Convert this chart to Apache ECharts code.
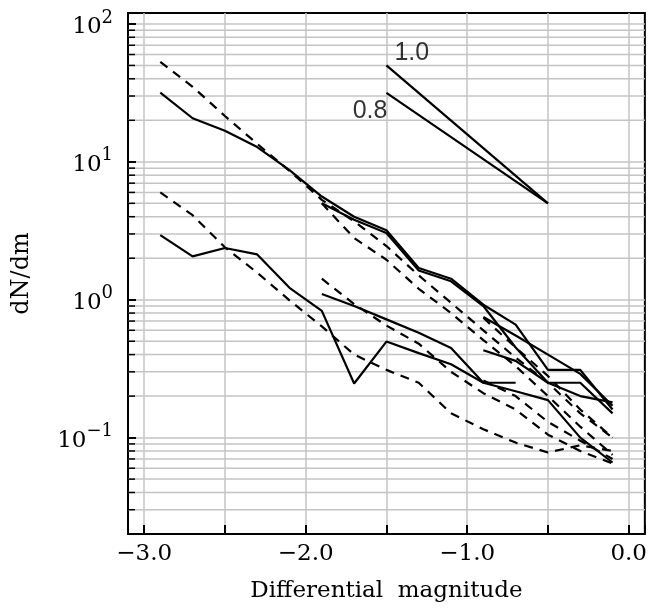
<!DOCTYPE html>
<html>
<head>
<meta charset="utf-8">
<script src="https://cdn.jsdelivr.net/npm/echarts@6/dist/echarts.min.js"></script>
<style>
  html, body { margin: 0; padding: 0; background: #fff; }
  #chart { width: 650px; height: 612px; }
</style>
</head>
<body>
<div id="chart"></div>
<script>
// magnitude bins
const magAll = [-2.9, -2.7, -2.5, -2.3, -2.1, -1.9, -1.7, -1.5, -1.3, -1.1, -0.9, -0.7, -0.5, -0.3, -0.1];
const magMid = [-1.9, -1.7, -1.5, -1.3, -1.1, -0.9, -0.7, -0.5, -0.3, -0.1];
const magLate = [-0.9, -0.7, -0.5, -0.3, -0.1];

// upper group
const upSolidAll = [31.8, 20.7, 16.8, 12.8, 8.7, 5.6, 4.0, 3.19, 1.70, 1.42, 0.92, 0.66, 0.31, 0.31, 0.16];
const upDashAll = [53, 35, 21.5, 13.5, 8.6, 5.3, 3.7, 2.45, 1.5, 0.95, 0.6, 0.38, 0.25, 0.15, 0.10];
const upSolidMid = [5.0, 3.8, 3.05, 1.63, 1.36, 0.90, 0.45, 0.25, 0.25, 0.15];
const upDashMid = [5.0, 2.8, 1.95, 1.2, 0.8, 0.51, 0.33, 0.2, 0.12, 0.075];
const upSolidLate = [0.75, 0.55, 0.40, 0.29, 0.17];
const upDashLate = [0.74, 0.45, 0.28, 0.16, 0.10];

// lower group
const loSolidAll = [2.94, 2.06, 2.37, 2.13, 1.22, 0.83, 0.247, 0.497, 0.41, 0.34, 0.25, 0.217, 0.187, 0.10, 0.066];
const loDashAll = [6.0, 4.1, 2.4, 1.57, 0.99, 0.64, 0.40, 0.31, 0.25, 0.15, 0.115, 0.092, 0.078, 0.088, 0.08];
const loSolidMid = [1.10, 0.90, 0.72, 0.575, 0.447, 0.25, 0.25];
const loDashMid = [1.42, 0.93, 0.65, 0.48, 0.30, 0.21, 0.16, 0.105, 0.08, 0.065];
const loSolidLate = [0.43, 0.36, 0.25, 0.20, 0.18];
const loDashLate = [0.26, 0.2, 0.13, 0.095, 0.07];

// reference slopes
const slopeX = [-1.5, -0.5];
const slope10 = [50, 5];
const slope08 = [31.6, 5];
const slopeNames = ['1.0', '0.8'];

// axis
const xMin = -3.1, xMax = 0.1;
const yMin = 0.02, yMax = 120;
const xLabelVals = [-3, -2, -1, 0];
const minorTicks = [0.03, 0.04, 0.05, 0.06, 0.07, 0.08, 0.09,
  0.2, 0.3, 0.4, 0.5, 0.6, 0.7, 0.8, 0.9,
  2, 3, 4, 5, 6, 7, 8, 9,
  20, 30, 40, 50, 60, 70, 80, 90];

const serif = 'DejaVu Serif';

function pairs(xs, ys) {
  return ys.map((v, i) => [xs[i], v]);
}

function curve(xs, ys, dashed) {
  return {
    type: 'line',
    data: pairs(xs, ys),
    symbol: 'none',
    silent: true,
    z: 3,
    lineStyle: { color: '#000', width: 2.2, type: dashed ? [9, 7] : 'solid' }
  };
}

const myChart = echarts.init(document.getElementById('chart'));

const option = {
  animation: false,
  backgroundColor: '#fff',
  grid: {
    left: 128, right: 5, top: 13, bottom: 78,
    show: true, borderColor: '#000', borderWidth: 2
  },
  xAxis: {
    type: 'value',
    min: xMin, max: xMax,
    minInterval: 0.5, maxInterval: 0.5,
    name: 'Differential  magnitude',
    nameLocation: 'middle',
    nameGap: 46,
    nameTextStyle: { fontFamily: serif, fontSize: 23, color: '#000' },
    axisLine: { show: false, onZero: false },
    axisTick: { inside: true, length: 9, lineStyle: { color: '#000', width: 2 } },
    axisLabel: {
      margin: 9,
      fontFamily: serif, fontSize: 23, color: '#000',
      formatter: function (v) {
        for (const t of xLabelVals) {
          if (Math.abs(v - t) < 1e-6) return (t < 0 ? '\u2212' : '') + Math.abs(t).toFixed(1);
        }
        return '';
      }
    },
    splitLine: { show: true, showMinLine: false, showMaxLine: false, lineStyle: { color: '#c4c4c4', width: 1.5 } }
  },
  yAxis: {
    type: 'log',
    logBase: 10,
    min: yMin, max: yMax,
    name: 'dN/dm',
    nameLocation: 'middle',
    nameGap: 94,
    nameTextStyle: { fontFamily: serif, fontSize: 24, color: '#000' },
    axisLine: { show: false, onZero: false },
    axisTick: { inside: true, length: 8, lineStyle: { color: '#000', width: 2 } },
    axisLabel: {
      margin: 15,
      color: '#000',
      formatter: function (v) {
        const lg = Math.log10(v);
        const n = Math.round(lg);
        if (Math.abs(lg - n) > 0.01) return '';
        return '{b|10}{s|' + (n < 0 ? '\u2212' + (-n) : n) + '}';
      },
      rich: {
        b: { fontFamily: serif, fontSize: 23, color: '#000', verticalAlign: 'bottom', lineHeight: 30 },
        s: { fontFamily: serif, fontSize: 18, color: '#000', verticalAlign: 'top', lineHeight: 18 }
      }
    },
    splitLine: { show: true, showMinLine: false, showMaxLine: false, lineStyle: { color: '#c4c4c4', width: 1.5 } }
  },
  series: [
    // minor grid lines and ticks on the log axis
    {
      type: 'custom',
      silent: true,
      z: 1,
      data: minorTicks.map(v => [xMin, v]),
      renderItem: function (params, api) {
        const p = api.coord([api.value(0), api.value(1)]);
        const cs = params.coordSys;
        return {
          type: 'group',
          children: [
            { type: 'line', shape: { x1: cs.x, y1: p[1], x2: cs.x + cs.width, y2: p[1] },
              style: { stroke: '#c4c4c4', lineWidth: 1.5 } },
            { type: 'line', shape: { x1: cs.x, y1: p[1], x2: cs.x + 7, y2: p[1] },
              style: { stroke: '#000', lineWidth: 1.5 } }
          ]
        };
      }
    },
    curve(magAll, upSolidAll, false),
    curve(magAll, upDashAll, true),
    curve(magMid, upSolidMid, false),
    curve(magMid, upDashMid, true),
    curve(magLate, upSolidLate, false),
    curve(magLate, upDashLate, true),
    curve(magAll, loSolidAll, false),
    curve(magAll, loDashAll, true),
    curve(magMid.slice(0, loSolidMid.length), loSolidMid, false),
    curve(magMid, loDashMid, true),
    curve(magLate, loSolidLate, false),
    curve(magLate, loDashLate, true),
    curve(slopeX, slope10, false),
    curve(slopeX, slope08, false),
    // slope labels
    {
      type: 'scatter',
      symbolSize: 0,
      silent: true,
      z: 4,
      data: [
        { value: [slopeX[0], slope10[0]], label: { formatter: slopeNames[0], position: 'right', offset: [3, -12] } },
        { value: [slopeX[0], slope08[0]], label: { formatter: slopeNames[1], position: 'left', offset: [6, 18] } }
      ],
      label: { show: true, fontFamily: 'Liberation Sans', fontSize: 25, color: '#000' }
    }
  ]
};

// draw
myChart.setOption(option);
</script>
</body>
</html>
